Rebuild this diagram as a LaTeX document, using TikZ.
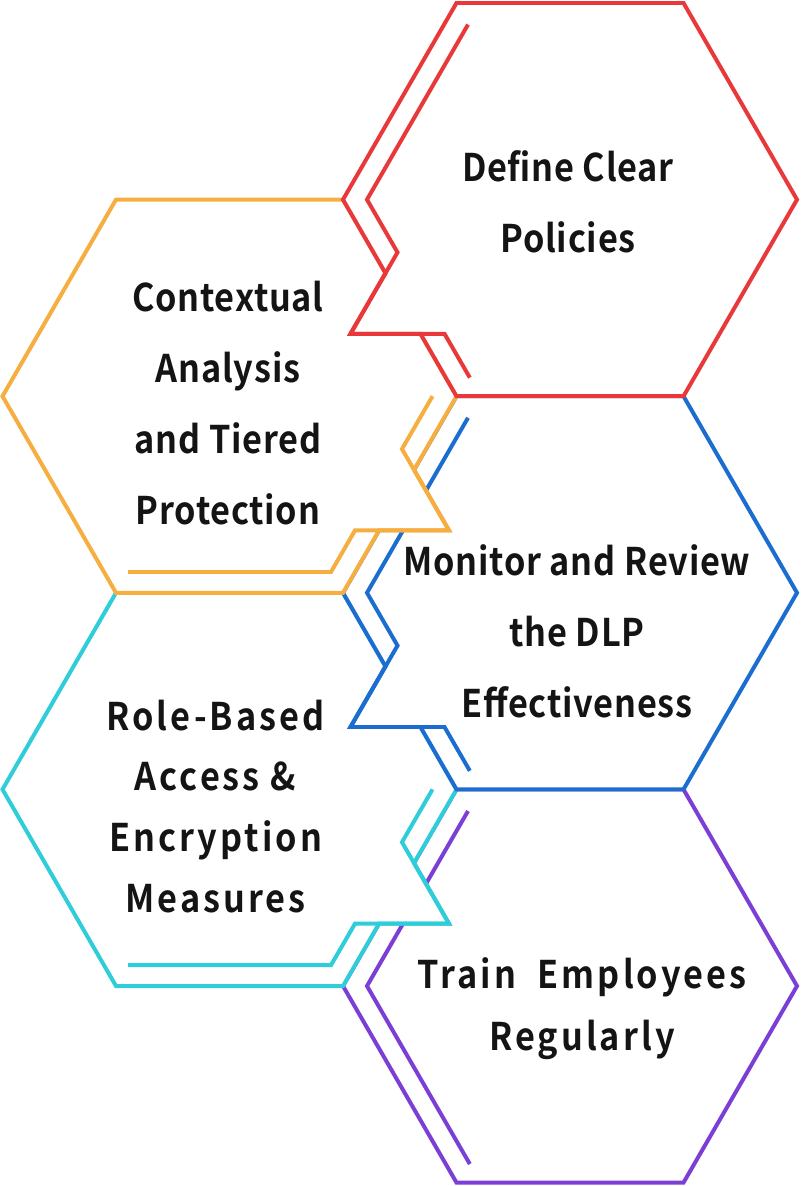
\documentclass[tikz,border=0pt]{standalone}
\usepackage{fontspec}
\setmainfont{Noto Sans CJK SC}
\newfontfamily\cellfont{Noto Sans CJK SC Bold}[FakeStretch=0.9, LetterSpace=2]
\newfontfamily\widecellfont{Noto Sans CJK SC Bold}[FakeStretch=0.9, LetterSpace=8]
\usetikzlibrary{positioning}

\definecolor{hexred}{HTML}{E8383A}
\definecolor{hexorange}{HTML}{F5AE3F}
\definecolor{hexblue}{HTML}{1C6DD0}
\definecolor{hexcyan}{HTML}{2FCCD9}
\definecolor{hexpurple}{HTML}{7B3FD6}

\begin{document}
\begin{tikzpicture}[
				x=0.03cm, 
				y=-0.03cm,
				cell/.style={
					draw=#1, 
					fill=white, 
					line width=3.4pt, 
					line join=miter
					},
				rim/.style={
					draw=#1, 
					line width=3.4pt, 
					line join=miter
					},
				celltext/.style={
					text=black!92, 
					font=\cellfont\fontsize{32.5}{60.6}\selectfont, 
					align=center, 
					inner sep=0pt
					},
				widetext/.style={
					celltext, 
					font=\widecellfont\fontsize{32.5}{#1}\selectfont
					}]
			    \useasboundingbox (0,0) rectangle (800,1186);

			    % Bottom hexagon first, each one covers the one below
			    \begin{scope}[shift={(570,986)}]
			    \draw [cell=hexpurple] (-113.5,-196.6) -- (-227,0) -- (-113.5,196.6) -- (113.5,196.6) -- (227,0) -- (113.5,-196.6) -- cycle;
			    \draw [rim=hexpurple] (-102,-175) -- (-203,0) -- (-100.2,178);
			    \end{scope}

			    \begin{scope}[shift={(229.5,789.4)}]
			    \draw [cell=hexcyan] (-113.5,-196.6) -- (113.5,-196.6) -- (227,0) -- (184.5,73.6) -- (219.5,134.2) -- (149.5,134.2) -- (113.5,196.6) -- (-113.5,196.6) -- (-227,0) -- cycle;
			    \draw [rim=hexcyan] (203,0) -- (172.5,52.8) -- (219.5,134.2) -- (125.5,134.2) -- (101.5,175.8) -- (-101.5,175.8);
			    \end{scope}

			    \begin{scope}[shift={(570,592.8)}]
			    \draw [cell=hexblue] (-113.5,-196.6) -- (-227,0) -- (-184.5,73.6) -- (-219.5,134.2) -- (-149.5,134.2) -- (-113.5,196.6) -- (113.5,196.6) -- (227,0) -- (113.5,-196.6) -- cycle;
			    \draw [rim=hexblue] (-102,-175) -- (-203,0) -- (-172.5,52.8) -- (-219.5,134.2) -- (-125.5,134.2) -- (-100.2,178);
			    \end{scope}

			    \begin{scope}[shift={(229.5,396.2)}]
			    \draw [cell=hexorange] (-113.5,-196.6) -- (113.5,-196.6) -- (227,0) -- (184.5,73.6) -- (219.5,134.2) -- (149.5,134.2) -- (113.5,196.6) -- (-113.5,196.6) -- (-227,0) -- cycle;
			    \draw [rim=hexorange] (203,0) -- (172.5,52.8) -- (219.5,134.2) -- (125.5,134.2) -- (101.5,175.8) -- (-101.5,175.8);
			    \end{scope}

			    \begin{scope}[shift={(570,199.6)}]
			    \draw [cell=hexred] (-113.5,-196.6) -- (-227,0) -- (-184.5,73.6) -- (-219.5,134.2) -- (-149.5,134.2) -- (-113.5,196.6) -- (113.5,196.6) -- (227,0) -- (113.5,-196.6) -- cycle;
			    \draw [rim=hexred] (-102,-175) -- (-203,0) -- (-172.5,52.8) -- (-219.5,134.2) -- (-125.5,134.2) -- (-100.2,178);
			    \end{scope}

			    % Place texts
			    \node [celltext] (policies) at (568,201.5) {Define Clear\\Policies};
			    \node [celltext] (context) at (228,403) {Contextual\\Analysis\\and Tiered\\Protection};
			    \node [celltext] (monitor) at (577,631) {Monitor and Review\\the DLP\\Effectiveness};
			    \node [widetext=52] (access) at (215.5,806.5) {Role-Based\\Access \&\\Encryption\\Measures};
			    \node [widetext=53] (train) at (582,1008.5) {Train~~Employees\\Regularly};
			\end{tikzpicture}
\end{document}
